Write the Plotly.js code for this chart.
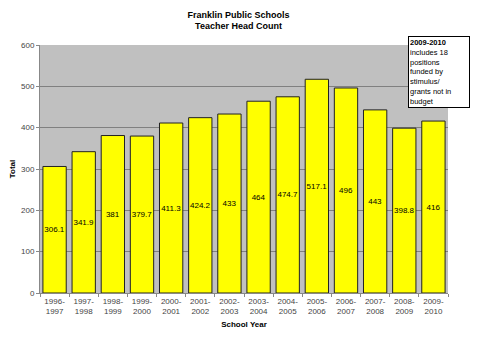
<!DOCTYPE html>
<html><head><meta charset="utf-8">
<script src="https://cdn.plot.ly/plotly-3.0.1.min.js"></script>
<style>body{margin:0;background:#fff}#c{width:477px;height:355px}</style>
</head><body><div id="c"></div>
<script>
const years = ["1996-<br>1997","1997-<br>1998","1998-<br>1999","1999-<br>2000","2000-<br>2001","2001-<br>2002","2002-<br>2003","2003-<br>2004","2004-<br>2005","2005-<br>2006","2006-<br>2007","2007-<br>2008","2008-<br>2009","2009-<br>2010"];
const totals = [306.1,341.9,381,379.7,411.3,424.2,433,464,474.7,517.1,496,443,398.8,416];
const labels = ["306.1","341.9","381","379.7","411.3","424.2","433","464","474.7","517.1","496","443","398.8","416"];
const noteText = "<b>2009-2010</b><br>includes 18<br>positions<br>funded by<br>stimulus/<br>grants not in<br>budget";

Plotly.newPlot('c', [{
  type:'bar', x:years, y:totals, text:labels,
  textposition:'inside', insidetextanchor:'middle', textangle:0,
  textfont:{family:'Liberation Sans, Arial', size:8, color:'#000'},
  marker:{color:'#ffff00', line:{color:'#222', width:1}},
  hoverinfo:'none'
}], {
  width:477, height:355,
  margin:{l:40, r:29, t:45, b:62},
  paper_bgcolor:'#fff', plot_bgcolor:'#c0c0c0',
  bargap:0.2,
  uniformtext:{mode:'show', minsize:8},
  font:{family:'Liberation Sans, Arial', size:8, color:'#333'},
  title:{text:'<b>Franklin Public Schools<br>Teacher Head Count</b>', font:{size:9, color:'#000'}, x:0.5, y:0.95, yanchor:'top'},
  xaxis:{tickangle:0, ticks:'outside', tickson:'boundaries', ticklen:3, tickcolor:'#888',
    showline:true, linecolor:'#888', tickfont:{size:8, color:'#444'},
    title:{text:'<b>School Year</b>', font:{size:8, color:'#000'}, standoff:6}},
  yaxis:{range:[0,600], dtick:100, ticks:'outside', ticklen:3, tickcolor:'#888',
    showline:true, linecolor:'#888', gridcolor:'#808080', gridwidth:1, zeroline:false,
    tickfont:{size:8, color:'#444'},
    title:{text:'<b>Total</b>', font:{size:8, color:'#000'}, standoff:4}},
  showlegend:false,
  annotations:[{xref:'paper', yref:'paper', x:0.902, y:1.036, xanchor:'left', yanchor:'top',
    text:noteText, showarrow:false, align:'left', valign:'top',
    width:58, height:68, bgcolor:'#fff', bordercolor:'#000', borderwidth:1, borderpad:1,
    font:{size:7.5, color:'#000'}}]
}, {staticPlot:true});
</script></body></html>
